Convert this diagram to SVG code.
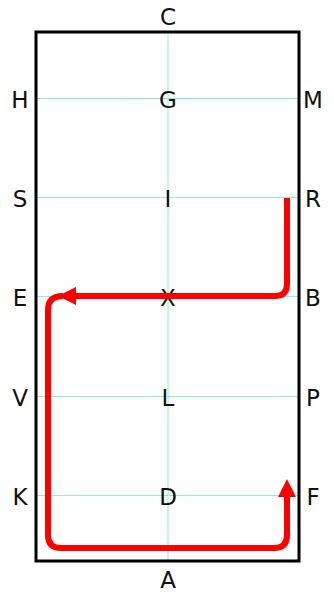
<svg xmlns="http://www.w3.org/2000/svg" width="334" height="594" viewBox="0 0 334 594">
<style>
.grid{stroke:#8ff2c4;stroke-width:1;fill:none}
.lbl{font-family:"DejaVu Sans",sans-serif;font-size:23px;fill:#111;text-anchor:middle;dominant-baseline:central}
.edge{stroke:#ff0000;stroke-width:6;fill:none;stroke-linejoin:round}
</style>
<defs>
<marker id="ah" markerWidth="18" markerHeight="18" refX="3" refY="9" orient="auto" markerUnits="userSpaceOnUse">
<path d="M0,0 L18,9 L0,18 Z" fill="#ff0000"/>
</marker>
</defs>
<rect width="334" height="594" fill="#ffffff"/>
<g id="grid">
<line class="grid" x1="168" y1="32" x2="168" y2="561"/>
<line class="grid" x1="36" y1="98.5" x2="299" y2="98.5"/>
<line class="grid" x1="36" y1="197.5" x2="299" y2="197.5"/>
<line class="grid" x1="36" y1="296.5" x2="299" y2="296.5"/>
<line class="grid" x1="36" y1="396.5" x2="299" y2="396.5"/>
<line class="grid" x1="36" y1="495.5" x2="299" y2="495.5"/>
</g>
<rect id="frame" x="36" y="32" width="263" height="529" fill="none" stroke="#000" stroke-width="3"/>
<g id="labels">
<g id="C"><text class="lbl" x="168" y="17">C</text></g>
<g id="A"><text class="lbl" x="168" y="580">A</text></g>
<g id="H"><text class="lbl" x="20" y="100">H</text></g>
<g id="G"><text class="lbl" x="168" y="100">G</text></g>
<g id="M"><text class="lbl" x="313" y="100">M</text></g>
<g id="S"><text class="lbl" x="20" y="199">S</text></g>
<g id="I"><text class="lbl" x="168" y="199">I</text></g>
<g id="R"><text class="lbl" x="313" y="199">R</text></g>
<g id="E"><text class="lbl" x="20" y="298">E</text></g>
<g id="X"><text class="lbl" x="168" y="298">X</text></g>
<g id="B"><text class="lbl" x="313" y="298">B</text></g>
<g id="V"><text class="lbl" x="20" y="398">V</text></g>
<g id="L"><text class="lbl" x="168" y="398">L</text></g>
<g id="P"><text class="lbl" x="313" y="398">P</text></g>
<g id="K"><text class="lbl" x="20" y="497">K</text></g>
<g id="D"><text class="lbl" x="168" y="497">D</text></g>
<g id="F"><text class="lbl" x="313" y="497">F</text></g>
</g>
<g id="connectors">
<path class="edge" d="M287,198 L287,284 Q287,296 275,296 L73,296" marker-end="url(#ah)"/>
<path class="edge" d="M63,296 Q48,296 48,310 L48,535 Q48,548 61,548 L274,548 Q287,548 287,535 L287,494" marker-end="url(#ah)"/>
</g>
</svg>
